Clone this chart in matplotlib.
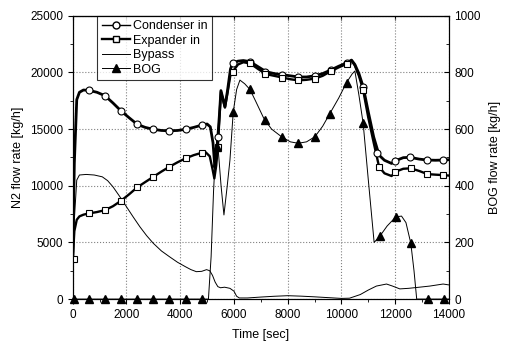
import numpy as np
import matplotlib
matplotlib.use("Agg")
import matplotlib.pyplot as plt
from matplotlib.lines import Line2D
from matplotlib.ticker import MultipleLocator

plt.rcParams['font.family'] = ['Liberation Sans', 'DejaVu Sans']

# ---- data ----
# condenser inlet N2 flow [kg/h]
cond_t = [0, 60, 150, 250, 400, 600, 900, 1200, 1500, 1800, 2100, 2400, 2700, 3000,
          3300, 3600, 3900, 4200, 4500, 4800, 5000, 5120, 5220, 5290, 5350, 5400,
          5460, 5515, 5600, 5664, 5760, 5870, 5950, 6150, 6350, 6600, 6900, 7200,
          7500, 7800, 8100, 8400, 8700, 9000, 9300, 9600, 9900, 10200, 10375,
          10500, 10650, 10808, 11000, 11200, 11400, 11600, 11865, 12000, 12300,
          12550, 12900, 13200, 13500, 13800, 14000]
cond_v = [3500, 12000, 17600, 18250, 18450, 18420, 18250, 17950, 17300, 16600,
          16000, 15420, 15150, 14980, 14880, 14850, 14880, 14980, 15150, 15350,
          15450, 15200, 13800, 11600, 12800, 14300, 16300, 18400, 17600, 16970,
          18400, 20300, 20800, 21000, 21050, 20950, 20500, 20060, 19900, 19800,
          19700, 19600, 19600, 19700, 19900, 20210, 20550, 20850, 21090, 20700,
          19900, 18740, 16500, 14300, 12700, 12250, 11970, 12200, 12480, 12510,
          12350, 12270, 12250, 12270, 12300]
cond_mt = [600, 1200, 1800, 2400, 3000, 3600, 4200, 4800, 5400, 5950, 6600, 7150,
           7770, 8390, 9010, 9600, 10190, 10808, 11306, 11990, 12545, 13200, 13785]
cond_mv = [18420, 17950, 16590, 15420, 14980, 14850, 14980, 15350, 14300, 20800,
           20950, 20060, 19800, 19600, 19700, 20210, 20850, 18740, 12860, 12200,
           12510, 12270, 12270]

# expander inlet N2 flow [kg/h]
exp_t = [0, 60, 150, 250, 400, 600, 900, 1200, 1500, 1800, 2100, 2400, 2700, 3000,
         3300, 3600, 3900, 4200, 4500, 4800, 4950, 5100, 5200, 5270, 5340, 5400,
         5460, 5515, 5600, 5664, 5760, 5870, 5950, 6150, 6350, 6600, 6900, 7200,
         7500, 7800, 8100, 8400, 8700, 9000, 9300, 9600, 9900, 10200, 10375,
         10500, 10650, 10808, 11000, 11200, 11400, 11600, 11865, 12000, 12300,
         12580, 12900, 13200, 13500, 13800, 14000]
exp_v = [3500, 6000, 7000, 7300, 7450, 7560, 7680, 7850, 8200, 8680, 9250, 9860,
         10330, 10790, 11250, 11680, 12070, 12420, 12700, 12910, 12950, 12600,
         11500, 10650, 11800, 13440, 16000, 18300, 17500, 16900, 18200, 19800,
         20060, 20700, 20900, 20800, 20300, 19850, 19700, 19550, 19400, 19300,
         19350, 19450, 19700, 20100, 20450, 20750, 21050, 20600, 19700, 18440,
         16000, 13800, 11680, 11100, 10860, 11230, 11500, 11540, 11300, 11030,
         10980, 10940, 10900]
exp_mt = [40, 600, 1200, 1800, 2400, 3000, 3600, 4200, 4800, 5400, 5950, 6600, 7150,
          7770, 8390, 9010, 9600, 10190, 10808, 11403, 11990, 12580, 13200, 13785]
exp_mv = [3500, 7560, 7850, 8680, 9860, 10790, 11680, 12420, 12910, 13440, 20060,
          20800, 19850, 19550, 19300, 19450, 20100, 20750, 18440, 11680, 11230,
          11540, 11030, 10940]

# bypass N2 flow [kg/h]
byp_t = [0, 60, 150, 250, 500, 800, 1100, 1300, 1500, 1750, 2000, 2250, 2500, 2750,
         3000, 3300, 3600, 3900, 4200, 4400, 4600, 4800, 4980, 5100, 5200, 5300,
         5400, 5500, 5650, 5850, 6000, 6100, 6200, 6500, 7000, 7500, 8000, 8500,
         9000, 9500, 10000, 10300, 10700, 11000, 11300, 11677, 11900, 12172,
         12500, 12900, 13288, 13783, 14000]
byp_v = [0, 7000, 10500, 10950, 11000, 10950, 10790, 10450, 9900, 9050, 8150, 7250,
         6380, 5600, 4920, 4250, 3740, 3250, 2850, 2600, 2420, 2450, 2600, 2500,
         2100, 1500, 1100, 1000, 1050, 950, 700, 250, 100, 100, 180, 250, 300, 260,
         200, 130, 60, 80, 400, 800, 1150, 1330, 1150, 900, 950, 1050, 1150, 1330,
         1250]

# BOG flow [kg/h] (right axis)
bog_t = [0, 5050, 5150, 5240, 5300, 5360, 5420, 5520, 5627, 5750, 5850, 5973, 6100,
         6222, 6400, 6594, 6800, 7000, 7100, 7152, 7400, 7771, 8100, 8390, 8700,
         9011, 9300, 9569, 9900, 10188, 10400, 10500, 10650, 10808, 11000, 11216,
         11428, 11700, 12023, 12235, 12400, 12581, 12700, 12800, 13200, 13800, 14000]
bog_v = [0, 0, 150, 380, 490, 560, 520, 400, 297, 400, 490, 661, 740, 773, 760, 740,
         700, 660, 640, 632, 600, 573, 555, 550, 555, 573, 610, 655, 710, 764, 795,
         805, 720, 620, 420, 200, 222, 258, 290, 293, 270, 197, 100, 0, 0, 0, 0]
bog_mt = [40, 617, 1212, 1807, 2402, 2997, 3592, 4213, 4808, 5378, 5973, 6594, 7152,
          7771, 8390, 9011, 9569, 10188, 10808, 11428, 12023, 12581, 13202, 13800]
bog_mv = [0, 0, 0, 0, 0, 0, 0, 0, 0, 538, 661, 740, 632, 573, 550, 573, 655, 764,
          620, 222, 290, 197, 0, 0]

fig = plt.figure(figsize=(5.05, 3.43), dpi=100)
ax = fig.add_axes([0.144, 0.128, 0.745, 0.826])
ax2 = ax.twinx()

ax.plot(cond_t, cond_v, color='black', lw=2.0, zorder=3)
ax.plot(cond_mt, cond_mv, 'o', ms=5, mfc='white', mec='black', mew=0.8, zorder=4)
ax.plot(exp_t, exp_v, color='black', lw=1.7, zorder=3)
ax.plot(exp_mt, exp_mv, 's', ms=5, mfc='white', mec='black', mew=0.8, zorder=4)
ax.plot(byp_t, byp_v, color='black', lw=0.7, zorder=2)

ax2.plot(bog_t, bog_v, color='black', lw=0.7)
ax2.plot(bog_mt, bog_mv, '^', ms=5.5, color='black', clip_on=False)

ax.set_xlim(0, 14000)
ax.set_ylim(0, 25000)
ax2.set_ylim(0, 1000)
ax.xaxis.set_major_locator(MultipleLocator(2000))
ax.xaxis.set_minor_locator(MultipleLocator(1000))
ax.yaxis.set_major_locator(MultipleLocator(5000))
ax.yaxis.set_minor_locator(MultipleLocator(2500))
ax2.yaxis.set_major_locator(MultipleLocator(200))
ax2.yaxis.set_minor_locator(MultipleLocator(100))

ax.grid(True, which='major', color='gray', linestyle=':', lw=0.8)
# bottom / left ticks point out, labels sit ~10 px from the frame
ax.tick_params(which='both', direction='out', labelsize=8.5, pad=3.5)
ax.tick_params(which='major', length=3.5)
ax.tick_params(which='minor', length=2)
ax2.tick_params(which='both', direction='in', labelsize=8.5, pad=4)
ax2.tick_params(which='major', length=3.5)
ax2.tick_params(which='minor', length=2)
ax.secondary_xaxis('top').tick_params(which='both', direction='in', labeltop=False,
                                       length=3)

ax.set_xlabel('Time [sec]', fontsize=9, labelpad=6)
ax.set_ylabel('N2 flow rate [kg/h]', fontsize=9)
ax2.set_ylabel('BOG flow rate [kg/h]', fontsize=9, labelpad=6)

handles = [
    Line2D([], [], color='black', lw=1.0, marker='o', ms=5, mfc='white', mec='black'),
    Line2D([], [], color='black', lw=1.7, marker='s', ms=5, mfc='white', mec='black'),
    Line2D([], [], color='black', lw=0.7),
    Line2D([], [], color='black', lw=0.7, marker='^', ms=5.5),
]
labels = ['Condenser in', 'Expander in', 'Bypass', 'BOG']
leg = ax.legend(handles, labels, loc='upper left', bbox_to_anchor=(0.065, 1.0),
                borderaxespad=0, fontsize=9, handlelength=2.3, handletextpad=0.2,
                labelspacing=0.2, borderpad=0.35, frameon=True, fancybox=False)
leg.get_frame().set_edgecolor('black')
leg.get_frame().set_linewidth(0.8)
leg.set_zorder(10)

plt.savefig('out.png', dpi=100)
